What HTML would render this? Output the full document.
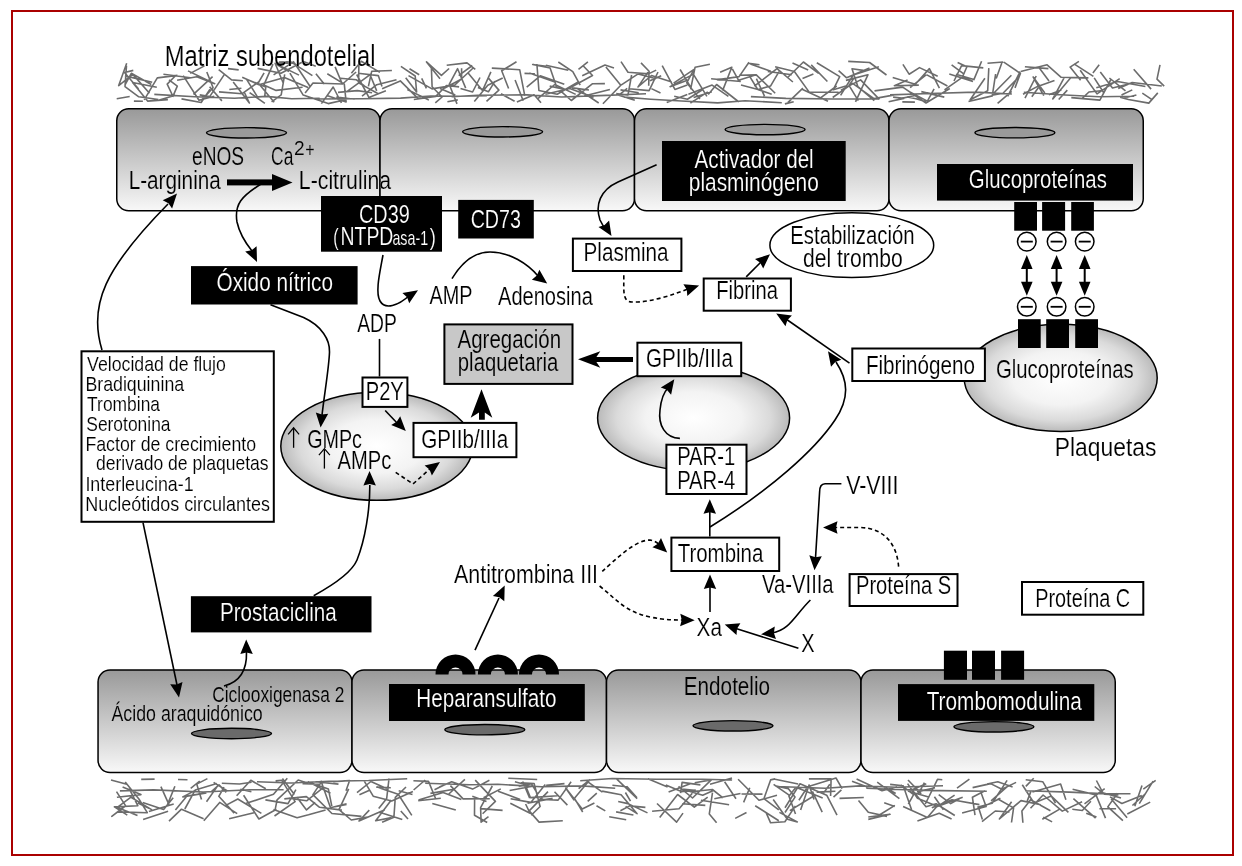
<!DOCTYPE html><html><head><meta charset="utf-8"><style>html,body{margin:0;padding:0;background:#fff;width:1242px;height:866px;overflow:hidden}svg{display:block;font-family:"Liberation Sans",sans-serif;will-change:transform}</style></head><body><svg width="1242" height="866" viewBox="0 0 1242 866"><defs><linearGradient id="cg" x1="0" y1="0" x2="0" y2="1"><stop offset="0" stop-color="#999999"/><stop offset="1" stop-color="#f8f8f8"/></linearGradient><radialGradient id="pg" cx="0.5" cy="0.5" r="0.5"><stop offset="0" stop-color="#ffffff"/><stop offset="0.5" stop-color="#f3f3f3"/><stop offset="0.8" stop-color="#dadada"/><stop offset="1" stop-color="#bababa"/></radialGradient></defs><rect x="0" y="0" width="1242" height="866" fill="#fff"/><rect x="12" y="11" width="1221" height="844" fill="none" stroke="#aa0000" stroke-width="2"/><path d="M116.7,98.7 L129.7,96.5 M124.9,75.9 L152.2,82.3 M126.7,63.3 L118.7,85.6 L132.8,74.4 L149.5,93.3 M133.9,101.1 L142.9,101.3 M138.6,89.1 L124.5,72.5 L133.3,70.4 M144.2,99.9 L157.3,77.9 L177.5,75.4 M151.3,84.5 L131.3,73.3 L124.9,85.0 M156.8,87.3 L132.6,82.5 L147.6,101.1 L167.9,99.6 M158.3,99.5 L138.8,96.8 L125.0,86.6 L126.5,65.8 M163.4,74.3 L190.4,77.7 M172.7,96.9 L177.3,86.1 L169.0,79.9 M175.2,76.0 L167.2,84.1 L172.8,96.0 L159.3,100.0 M183.2,75.6 L199.0,100.2 L214.3,96.2 M188.0,70.9 L214.7,83.7 L196.8,76.7 L177.1,80.3 M190.2,73.4 L204.5,65.9 M199.7,94.9 L209.7,96.6 L224.9,73.6 M201.1,100.6 L213.1,87.7 L206.8,72.0 M210.0,89.2 L201.2,102.5 L181.5,98.9 M212.6,76.6 L193.4,94.4 M218.7,69.7 L231.6,79.9 L242.9,80.7 M221.9,100.9 L209.6,86.8 M228.0,68.6 L238.7,69.9 M233.2,81.9 L249.4,103.0 L244.2,92.0 M241.4,88.2 L229.3,89.5 M242.2,77.2 L258.9,84.8 L284.4,77.4 L308.1,87.4 M249.6,92.6 L264.9,103.3 M257.6,97.2 L246.6,79.3 L265.8,86.9 L264.6,97.4 M259.4,81.3 L242.2,93.7 L219.0,91.9 M264.1,72.8 L258.2,83.0 L274.2,102.3 M271.6,101.9 L281.2,94.9 L284.7,74.3 M273.6,74.9 L294.2,61.4 M278.9,62.1 L290.9,61.9 L312.4,75.6 M289.0,71.6 L277.1,64.7 M289.9,73.2 L303.2,95.1 L328.2,103.6 L346.4,99.5 M299.0,75.1 L275.5,63.6 M302.6,87.3 L276.1,90.4 L263.8,85.1 L273.0,64.1 M305.1,93.0 L313.0,83.0 L342.6,84.0 L356.1,72.0 M310.3,86.8 L294.4,63.0 L275.1,63.3 L283.1,82.7 M315.8,66.2 L303.4,61.5 L281.0,73.2 L257.6,68.4 M324.4,84.3 L315.9,73.8 M327.3,73.7 L344.3,84.1 L346.1,101.9 L327.6,95.7 M335.1,66.9 L342.4,84.3 M341.4,103.0 L333.2,87.0 L321.4,103.6 M346.5,91.9 L370.1,74.7 L376.7,90.9 M351.4,73.2 L361.3,61.3 L379.9,72.4 M354.6,99.2 L336.3,97.1 M358.1,73.3 L378.3,75.6 L382.0,86.5 M364.4,85.8 L356.4,79.8 L340.4,78.2 M372.1,92.7 L357.3,90.6 L338.0,92.4 M378.2,93.8 L358.6,82.9 L358.9,62.3 M382.1,88.8 L400.3,80.9 L417.9,98.4 M385.9,90.7 L368.9,97.4 L356.7,74.5 M391.9,70.5 L371.7,71.3 L368.4,86.4 M396.5,79.8 L376.8,84.7 L362.0,96.2 M400.9,66.4 L415.2,76.0 L416.6,91.9 L405.7,77.7 M408.5,75.6 L432.0,88.9 L454.9,85.0 L473.7,67.5 M413.8,99.5 L435.8,96.4 L446.4,85.5 L459.1,86.9 M419.2,74.8 L409.5,68.8 M421.7,78.3 L426.4,88.4 M428.9,100.1 L407.3,89.5 M435.3,102.8 L442.1,97.0 L432.1,86.7 L431.3,65.8 M440.0,78.7 L426.5,61.9 L441.4,75.3 L449.1,68.5 M444.3,88.2 L461.6,79.0 L461.6,68.3 M447.4,101.7 L457.8,99.9 M455.3,95.0 L440.1,88.4 M458.7,75.6 L472.3,65.5 M465.7,88.1 L457.6,68.7 L449.2,84.3 L457.0,103.9 M468.1,73.0 L482.5,90.6 L490.9,71.9 M475.3,69.3 L467.0,62.9 L446.7,65.3 M480.0,77.5 L472.6,92.0 L460.5,88.5 M488.0,77.6 L498.9,90.1 L486.5,101.3 M491.8,68.1 L519.7,69.7 L524.8,95.9 M495.0,81.2 L488.4,91.8 L477.9,87.5 M502.7,78.0 L487.8,85.2 L474.3,101.6 M508.6,88.5 L501.7,70.8 L516.5,61.8 M514.6,101.3 L501.0,93.8 M516.9,102.0 L534.1,94.8 L541.0,102.8 M523.2,100.8 L515.1,80.0 M529.3,73.1 L554.9,81.9 M534.9,73.7 L524.5,73.4 M537.9,98.7 L554.7,84.5 L575.7,94.4 M545.4,94.3 L569.7,88.5 L593.6,97.3 M549.7,86.1 L566.4,89.7 L592.5,75.5 L583.1,65.7 M556.8,87.4 L550.1,68.0 L532.7,64.5 L546.3,66.2 M558.3,62.0 L572.8,71.7 L580.2,85.1 M564.3,84.3 L540.3,75.8 L526.7,87.2 M568.3,70.3 L545.8,65.2 M577.7,82.2 L557.2,94.3 L538.9,90.5 L536.9,64.0 M578.5,69.4 L587.9,61.8 M584.1,96.1 L609.9,89.4 M589.0,90.0 L572.2,87.9 M598.7,103.0 L576.5,88.2 M602.9,103.8 L620.8,85.3 L605.9,67.1 M604.9,83.6 L592.6,83.7 L571.3,100.5 L561.1,91.4 M614.0,68.0 L605.0,65.1 L582.2,75.7 M616.2,93.6 L627.9,95.3 L631.6,75.0 M621.4,84.9 L638.1,73.9 L656.1,78.8 M629.1,88.8 L649.1,90.6 L658.0,72.0 M634.8,100.2 L618.9,95.2 L627.2,88.4 M638.7,92.8 L620.5,89.9 M641.0,62.9 L649.1,71.3 L648.7,85.8 M650.0,80.8 L661.2,75.7 M656.2,70.1 L648.5,73.9 L628.0,72.3 L621.0,61.6 M660.5,93.0 L651.4,88.6 M666.7,102.6 L687.3,94.6 M671.8,81.9 L651.5,75.5 L638.0,86.9 L648.0,72.1 M673.6,83.1 L694.0,69.3 L686.7,82.8 L699.9,99.0 M680.1,69.5 L692.1,89.7 M687.3,85.1 L674.9,89.4 L662.2,65.6 M690.4,103.2 L707.8,91.9 M693.6,97.5 L711.9,91.8 M702.8,89.5 L687.4,99.2 L674.2,96.2 M706.9,96.4 L693.3,74.1 L670.1,86.7 L688.0,80.1 M709.9,64.3 L695.1,67.2 L690.6,89.3 M716.7,79.9 L739.1,76.6 L749.0,62.3 M722.6,90.6 L731.8,67.2 L720.1,72.3 M728.4,96.4 L712.1,85.1 L688.4,94.2 M732.3,68.9 L738.6,80.3 L755.3,74.9 M738.9,102.0 L716.6,84.5 L708.2,94.5 M740.8,81.5 L711.1,78.7 M748.9,75.2 L757.7,89.5 L771.7,94.2 M754.3,86.2 L777.0,68.6 L792.9,82.0 M759.5,64.8 L748.7,63.2 M764.5,96.2 L756.4,78.6 M770.8,71.3 L750.4,64.0 M775.2,93.3 L756.3,74.9 L739.1,75.2 M779.0,71.7 L770.5,86.1 L758.1,89.4 L741.0,85.0 M787.8,102.6 L802.9,88.2 M791.8,74.7 L767.7,71.5 M793.7,101.7 L784.9,103.9 M802.1,89.2 L828.0,101.2 M808.2,69.9 L792.5,63.1 M813.4,74.0 L802.5,78.4 M818.6,73.3 L803.4,62.0 L787.4,77.7 M821.2,97.4 L836.7,86.0 M827.4,81.5 L811.2,64.9 M832.7,97.5 L852.6,83.4 L874.0,98.6 L894.6,94.9 M838.6,92.3 L809.2,92.1 L794.4,71.5 L775.1,66.8 M840.6,95.3 L853.2,75.0 L878.9,66.8 M846.7,85.8 L833.3,89.7 L839.7,76.6 L816.8,62.8 M855.5,101.9 L867.9,74.8 L845.9,80.4 M858.3,100.7 L849.0,85.4 L854.9,76.9 M863.2,70.4 L852.0,68.8 L857.9,86.7 L874.3,100.6 M869.5,67.9 L846.6,77.8 L838.6,70.6 M874.5,90.9 L902.7,87.1 L926.0,103.0 L949.8,88.5 M879.4,99.4 L860.6,79.9 L840.9,90.1 M886.5,75.0 L869.6,62.5 L848.2,61.4 M888.6,101.8 L903.9,98.4 L893.1,97.1 M897.9,99.1 L916.2,95.2 M902.9,64.3 L909.1,74.2 L919.5,67.6 L937.7,76.2 M907.6,80.0 L894.4,85.8 L918.8,85.1 M910.1,87.7 L926.1,74.9 M914.9,102.1 L902.3,101.9 M921.3,91.6 L944.3,97.1 M926.1,101.7 L916.0,98.7 L907.3,97.0 M934.1,88.9 L927.4,101.1 L909.4,91.6 M939.4,88.2 L929.4,68.6 L915.3,84.2 L892.7,77.6 M944.5,89.9 L962.6,77.2 L972.7,81.3 M947.4,86.0 L926.4,74.6 M954.0,81.0 L961.6,65.6 L983.3,67.9 M957.6,62.5 L966.9,66.7 L961.9,78.3 M964.4,74.4 L951.6,64.8 M968.5,101.5 L992.3,95.9 L995.6,74.0 M973.0,81.4 L949.3,74.0 M981.6,61.2 L973.9,79.6 L955.9,74.3 M984.9,78.2 L970.2,99.8 L987.7,90.8 L988.8,68.1 M992.1,95.1 L1003.0,93.3 L1018.3,77.6 M997.6,103.3 L1011.7,91.3 M1001.8,63.0 L996.2,78.6 M1003.3,62.0 L987.5,63.2 M1011.4,75.2 L991.9,95.0 M1015.0,87.9 L1020.4,73.4 L1003.8,62.2 M1020.1,71.7 L1007.7,96.3 M1025.0,98.2 L1036.2,76.0 M1031.8,96.7 L1038.3,87.7 M1038.6,67.1 L1049.0,81.1 M1043.8,95.7 L1033.2,77.0 L1044.8,93.0 M1048.4,68.6 L1024.9,66.7 M1054.5,80.4 L1037.6,86.4 L1023.0,94.2 M1058.7,99.5 L1067.3,90.1 M1061.4,90.0 L1048.8,94.8 M1070.7,77.8 L1052.8,98.9 L1064.2,77.7 M1074.0,63.9 L1093.4,76.3 M1080.6,80.2 L1070.1,67.1 L1078.9,61.4 M1082.3,98.3 L1088.9,92.0 L1103.3,90.5 M1088.4,77.9 L1061.2,77.3 L1047.1,64.8 L1020.7,71.6 M1092.9,73.1 L1099.2,64.8 M1100.3,72.1 L1112.5,88.0 L1130.7,83.5 M1103.9,93.0 L1094.2,77.9 M1110.9,79.5 L1099.9,100.1 L1071.3,97.6 M1118.2,88.5 L1132.2,82.5 L1161.8,86.0 M1119.7,78.6 L1097.0,93.9 L1080.2,70.3 M1125.5,90.9 L1109.4,78.0 M1132.3,89.9 L1121.5,95.0 M1136.4,95.0 L1123.8,98.3 M1142.3,93.2 L1152.0,99.6 M1145.4,86.5 L1117.5,81.5 L1096.3,87.7 M1151.1,89.1 L1133.7,69.3 M1157.8,92.9 L1148.8,103.1 L1128.4,99.5 L1120.1,97.2 M1164.2,86.1 L1157.0,79.2 L1160.0,64.8 M154.3,94.4 L194.7,96.7 L234.5,98.2 L266.5,96.4 L291.7,98.8 L319.7,98.2 M315.1,99.0 L362.3,98.7 L400.6,98.1 L430.8,96.0 L458.5,96.2 L486.9,95.7 M451.6,96.7 L477.5,95.2 L526.9,94.9 L561.7,97.0 L606.1,95.4 L646.0,93.8 M624.2,97.1 L650.8,99.2 L681.5,101.0 L717.6,102.9 L745.1,100.7 L781.8,102.8 M750.9,96.6 L785.9,98.4 L833.0,99.0 L879.4,99.0 M890.0,94.9 L930.2,93.5 L975.5,92.1 L1011.9,94.0 M1023.8,92.2 L1060.1,94.7 L1099.1,96.8 L1134.1,96.3" fill="none" stroke="#6c6c6c" stroke-width="1.6" stroke-linejoin="round" stroke-linecap="butt"/><path d="M111.0,779.9 L126.8,784.2 M116.5,791.6 L125.7,805.9 L111.8,816.3 L124.2,806.6 M117.4,811.9 L147.3,812.7 L138.9,799.0 L125.2,781.9 M122.6,787.1 L140.9,794.6 L116.9,797.3 M128.9,788.2 L137.8,805.7 L114.4,806.9 L127.3,815.1 M137.5,815.5 L117.3,807.4 L131.0,797.2 L152.0,809.9 M137.8,803.1 L149.0,808.3 M143.1,819.5 L168.1,811.3 M148.9,811.4 L173.7,804.1 M154.6,779.1 L141.2,779.4 M160.9,786.6 L169.0,804.6 M167.3,805.1 L174.9,786.2 M173.2,797.7 L163.6,809.5 L142.7,802.4 M178.0,779.5 L187.5,779.7 M184.8,809.0 L195.3,789.9 L216.9,783.6 M187.0,796.1 L175.4,810.0 M190.7,788.3 L199.7,781.0 M195.5,790.4 L182.8,796.9 L206.4,792.9 M203.6,818.8 L181.5,809.2 L169.0,821.2 M207.4,778.6 L196.7,784.1 L201.5,799.5 M211.4,791.6 L219.0,784.9 L226.3,792.4 M216.8,787.1 L206.5,801.7 M224.0,787.1 L218.8,796.3 L234.2,813.1 M227.0,790.8 L213.6,782.4 M237.2,813.6 L219.7,802.4 L203.8,820.8 M240.3,789.3 L251.4,791.8 M243.6,795.3 L258.9,819.0 L276.5,809.2 M251.6,782.2 L239.5,784.0 L221.8,783.3 M254.0,812.7 L229.1,818.8 M261.4,813.4 L237.8,799.0 L225.8,805.4 M265.8,788.8 L250.8,780.3 L236.6,795.7 M273.4,809.4 L297.1,817.7 L308.5,814.8 L325.6,810.0 M275.6,780.9 L281.8,780.3 L295.1,801.6 L274.5,816.0 M284.3,798.9 L306.4,796.6 L319.6,807.3 L341.9,810.1 M287.3,778.3 L273.5,794.3 L245.7,803.6 M294.4,794.5 L282.4,778.6 M295.9,789.6 L288.0,803.6 L265.4,799.9 M302.5,783.8 L320.3,784.2 M308.5,783.5 L298.2,780.0 L277.1,799.8 L274.9,810.9 M315.2,802.3 L306.5,809.9 L296.7,796.9 M320.9,780.8 L330.5,807.8 L346.6,803.7 M323.9,787.2 L306.6,800.8 L288.8,798.2 M330.5,793.3 L308.4,781.9 L328.4,789.1 L331.8,806.1 M333.3,781.6 L349.6,780.6 L346.0,790.8 M338.5,784.1 L315.8,781.8 L326.9,781.7 M346.6,804.4 L335.0,806.7 M348.7,788.9 L339.0,809.7 L351.3,820.0 L367.5,817.1 M357.0,792.7 L370.9,781.5 L388.7,789.4 M361.5,816.4 L331.9,813.5 L312.9,794.6 L321.3,782.1 M364.1,780.9 L373.2,796.2 L391.7,801.1 L412.9,791.4 M369.5,790.3 L359.4,794.7 M378.7,808.6 L386.7,798.5 L389.0,778.6 M382.1,822.2 L393.9,817.2 L395.3,797.4 L406.0,787.0 M384.8,809.8 L359.0,821.0 L369.3,810.1 M391.3,800.1 L375.7,820.8 L391.5,817.6 M398.7,790.8 L412.5,794.4 M402.3,819.6 L379.5,812.2 M408.0,819.0 L400.8,811.0 M411.8,815.4 L398.2,794.3 L376.8,787.1 L390.8,787.7 M418.2,800.7 L440.8,798.2 M425.2,780.0 L413.6,790.0 M430.4,793.4 L453.9,789.2 M435.9,799.3 L428.5,781.4 L413.4,780.8 M439.4,787.0 L451.7,781.8 L472.6,789.1 L489.4,780.3 M445.1,784.5 L434.5,789.8 M450.4,785.6 L463.1,798.9 L489.8,798.8 M455.8,810.0 L432.3,803.5 M461.4,799.4 L443.1,792.4 L418.5,800.1 M464.9,779.3 L448.8,794.0 M472.3,796.2 L486.5,801.5 M475.2,780.1 L495.4,801.4 L482.6,813.8 M480.6,808.6 L502.6,810.4 M487.2,822.5 L474.5,815.3 L474.6,799.8 M492.3,786.0 L480.6,807.7 L481.1,822.1 L488.5,816.6 M498.1,791.3 L520.2,799.4 M500.8,788.9 L483.5,797.8 M510.3,803.3 L530.1,813.3 L525.6,804.0 M514.9,781.8 L525.0,784.4 L530.4,797.6 L557.6,795.7 M518.6,786.5 L531.5,783.8 L537.1,793.2 M522.7,781.5 L529.7,798.1 M531.2,815.3 L540.1,806.5 L534.1,783.5 L520.8,782.9 M533.9,786.0 L509.6,790.5 M537.2,779.5 L508.3,778.3 M545.3,784.6 L530.8,802.4 L510.6,798.8 M552.6,798.4 L527.5,803.3 M554.5,791.8 L567.4,805.1 M562.8,820.7 L539.1,822.1 L529.2,810.9 L548.0,791.6 M564.5,783.6 L546.2,785.4 M571.1,781.7 L558.1,800.1 L539.1,799.3 M578.6,788.7 L587.5,781.7 L602.4,792.2 M582.7,812.0 L574.5,798.3 L590.1,779.6 M587.7,801.3 L596.8,793.1 M594.4,803.0 L582.2,809.0 L565.7,788.1 L574.2,800.3 M596.5,805.7 L605.3,810.9 M602.1,791.1 L621.1,794.7 L637.1,813.7 L625.6,806.3 M609.2,816.7 L626.2,819.8 M612.4,785.3 L626.6,786.7 M618.2,801.5 L628.0,803.6 L647.5,812.9 M625.4,792.5 L630.5,801.2 M626.7,786.2 L636.8,797.5 M633.4,815.0 L616.1,811.9 M637.2,798.7 L616.8,779.2 M645.4,807.4 L629.7,805.9 L620.4,810.8 M652.1,811.3 L679.1,808.8 L692.3,793.3 M657.0,803.5 L676.6,822.1 L683.0,813.1 M659.7,817.5 L677.6,794.5 L694.3,807.2 L707.7,797.2 M667.6,787.1 L647.9,778.7 M668.6,792.1 L690.8,783.5 M678.5,786.3 L692.5,798.0 L711.3,779.9 L694.7,782.8 M682.2,803.8 L705.3,805.4 M684.3,789.8 L702.7,795.2 L713.4,790.4 M694.5,790.2 L681.9,789.0 M695.8,790.0 L681.3,791.6 L665.8,784.9 M700.4,784.9 L682.1,782.4 L680.5,793.2 M710.0,784.2 L732.0,778.1 M714.3,798.7 L740.5,793.5 M716.6,822.7 L709.3,813.9 L712.5,792.7 M723.0,797.8 L712.4,789.5 L690.4,791.7 M729.1,804.8 L700.9,800.3 M736.0,798.8 L724.6,781.8 M738.1,779.2 L759.0,800.3 L777.0,795.3 M746.5,812.5 L735.2,818.4 M749.8,787.8 L743.6,802.4 M755.2,805.7 L778.8,820.7 M762.5,794.1 L741.5,794.0 M766.1,812.7 L770.6,822.8 L784.9,821.7 L795.4,805.9 M773.2,799.5 L787.4,819.3 L797.3,821.9 L779.4,812.4 M773.8,779.0 L798.2,784.0 M778.8,809.9 L763.9,798.7 L770.6,779.9 L775.1,778.9 M785.0,812.5 L795.0,797.1 L788.2,788.6 L775.0,785.7 M789.8,810.6 L813.3,796.3 M795.5,814.1 L788.7,795.5 M800.6,809.9 L809.1,784.9 L814.0,799.6 M808.9,778.9 L831.1,778.9 L830.6,796.0 M812.4,791.3 L822.2,812.1 M816.6,792.1 L835.4,791.2 M822.7,798.0 L795.9,787.3 L789.5,795.4 L773.6,784.3 M829.8,784.3 L823.4,793.4 M833.5,797.1 L841.4,789.9 M837.0,815.2 L826.7,795.2 L800.0,783.8 L785.0,807.7 M842.1,788.6 L836.0,778.0 L807.7,786.8 L798.9,800.2 M852.0,781.2 L867.4,787.0 M856.6,779.1 L882.0,790.7 L897.0,786.8 M858.5,800.4 L868.3,812.3 L887.0,816.4 M863.8,797.5 L839.5,798.4 M868.3,819.4 L890.0,814.3 L868.3,817.0 M877.2,782.2 L899.4,798.6 M879.8,814.8 L894.9,805.4 M886.0,788.0 L895.7,793.5 M890.1,784.4 L903.2,785.7 L911.6,809.7 M894.8,806.4 L884.2,802.8 M900.7,784.9 L913.6,794.7 L908.3,804.1 M908.0,780.0 L921.3,793.7 M912.8,790.8 L926.0,806.7 L936.1,803.7 L954.8,815.5 M918.4,794.0 L924.4,782.7 M925.3,804.0 L937.5,779.3 L942.3,779.7 M926.3,783.8 L908.5,791.2 L929.5,797.3 M935.0,787.7 L917.0,791.9 M938.7,794.6 L950.7,803.6 L959.7,798.5 M943.4,809.8 L934.4,796.7 M951.6,818.9 L939.2,813.2 L917.4,821.0 M954.6,795.1 L937.7,806.4 L917.5,798.3 L907.6,783.6 M962.1,813.1 L986.1,806.6 L980.9,792.2 M962.7,797.3 L936.6,806.8 L927.4,817.4 L903.1,806.4 M969.4,779.2 L957.0,788.2 M977.3,807.3 L992.1,803.2 L1007.1,780.4 M979.4,804.6 L952.0,799.8 L931.8,807.8 M984.9,790.8 L972.4,797.2 L975.0,815.1 M991.1,800.8 L1008.9,785.1 M997.5,798.7 L1013.6,807.9 L1011.5,822.5 M1000.4,798.2 L979.0,808.9 L982.4,819.4 M1009.5,812.0 L995.3,811.0 L982.0,821.7 M1012.6,786.9 L997.8,781.8 L987.0,784.0 M1016.1,782.4 L1001.9,789.2 L990.6,783.6 L972.6,787.6 M1022.3,784.8 L1034.0,803.0 L1051.3,796.1 L1068.4,812.3 M1030.8,791.6 L1027.2,801.1 M1033.7,778.2 L1025.8,786.4 M1040.7,804.7 L1021.0,800.6 L999.4,819.0 L1011.6,801.8 M1043.2,817.1 L1052.1,821.9 M1050.4,810.8 L1030.6,799.7 L1021.9,811.1 L1022.9,822.7 M1055.5,803.2 L1042.7,781.7 L1025.7,779.7 M1060.1,808.9 L1042.3,819.2 M1065.9,799.8 L1060.6,784.0 L1032.4,791.9 M1072.6,789.3 L1096.0,794.9 L1105.5,818.1 M1073.4,798.6 L1095.6,818.1 M1082.1,801.7 L1062.3,811.1 L1043.1,795.0 L1030.5,808.3 M1086.2,813.2 L1096.5,816.9 M1090.9,801.3 L1082.3,810.5 L1072.3,809.2 M1094.7,786.5 L1104.2,794.2 L1118.4,795.0 M1099.4,808.7 L1116.1,808.8 M1104.7,788.6 L1084.5,803.9 M1110.0,796.9 L1121.9,803.5 L1141.8,795.5 M1117.5,793.3 L1107.8,806.9 L1122.9,820.6 M1121.0,798.0 L1102.8,792.7 L1096.4,780.5 M1127.1,817.8 L1111.1,798.7 M1132.4,805.5 L1145.1,794.0 M1139.3,803.7 L1153.1,781.2 M1142.0,785.6 L1134.8,806.2 M1150.2,802.1 L1127.3,814.0 M1155.7,780.3 L1143.3,789.2 M119.9,790.9 L153.5,789.9 L203.2,792.0 L250.1,789.8 L283.6,789.7 M257.0,781.7 L291.1,783.0 L329.0,781.2 L368.6,780.5 L407.2,778.8 M425.2,783.2 L469.7,784.8 L497.8,784.3 L541.5,786.7 L582.2,785.9 L615.2,788.3 M580.2,780.7 L612.2,778.5 L656.7,779.3 L702.6,779.2 L732.1,780.0 M776.7,786.5 L825.3,788.3 L859.7,785.9 L895.7,787.3 L943.0,785.8 M866.3,788.3 L897.4,789.5 L940.7,790.6 L986.8,791.3 M1025.2,790.7 L1069.4,792.1 L1101.8,793.6 L1130.5,793.8" fill="none" stroke="#6c6c6c" stroke-width="1.6" stroke-linejoin="round" stroke-linecap="butt"/><rect x="116.75" y="108.75" width="263.25" height="102.00" rx="12" ry="12" fill="url(#cg)" stroke="#000" stroke-width="1.5"/><rect x="380.00" y="108.75" width="254.50" height="102.00" rx="12" ry="12" fill="url(#cg)" stroke="#000" stroke-width="1.5"/><rect x="634.50" y="108.75" width="254.50" height="102.00" rx="12" ry="12" fill="url(#cg)" stroke="#000" stroke-width="1.5"/><rect x="889.00" y="108.75" width="254.25" height="102.00" rx="12" ry="12" fill="url(#cg)" stroke="#000" stroke-width="1.5"/><ellipse cx="246.5" cy="132.8" rx="40" ry="5.2" fill="#9a9a9a" stroke="#000" stroke-width="1.4"/><ellipse cx="502.6" cy="131.8" rx="40" ry="5.2" fill="#9a9a9a" stroke="#000" stroke-width="1.4"/><ellipse cx="765.1" cy="129.6" rx="40" ry="5.2" fill="#9a9a9a" stroke="#000" stroke-width="1.4"/><ellipse cx="1014.9" cy="132.7" rx="40" ry="5.2" fill="#9a9a9a" stroke="#000" stroke-width="1.4"/><rect x="98.05" y="670.05" width="253.95" height="102.40" rx="12" ry="12" fill="url(#cg)" stroke="#000" stroke-width="1.5"/><rect x="352.00" y="670.05" width="254.50" height="102.40" rx="12" ry="12" fill="url(#cg)" stroke="#000" stroke-width="1.5"/><rect x="606.50" y="670.05" width="254.50" height="102.40" rx="12" ry="12" fill="url(#cg)" stroke="#000" stroke-width="1.5"/><rect x="861.00" y="670.05" width="254.25" height="102.40" rx="12" ry="12" fill="url(#cg)" stroke="#000" stroke-width="1.5"/><ellipse cx="231.5" cy="733.5" rx="40" ry="5.2" fill="#6a6a6a" stroke="#000" stroke-width="1.4"/><ellipse cx="484.8" cy="729.7" rx="40" ry="5.2" fill="#6a6a6a" stroke="#000" stroke-width="1.4"/><ellipse cx="733" cy="725.8" rx="40" ry="5.2" fill="#6a6a6a" stroke="#000" stroke-width="1.4"/><ellipse cx="993.9" cy="726.8" rx="40" ry="5.2" fill="#6a6a6a" stroke="#000" stroke-width="1.4"/><ellipse cx="376.8" cy="446.3" rx="96" ry="54" fill="url(#pg)" stroke="#000" stroke-width="1.5"/><ellipse cx="693.6" cy="418" rx="96" ry="52.5" fill="url(#pg)" stroke="#000" stroke-width="1.5"/><ellipse cx="1060.7" cy="377.9" rx="96.5" ry="53.6" fill="url(#pg)" stroke="#000" stroke-width="1.5"/><ellipse cx="851.8" cy="245.2" rx="81.9" ry="32.4" fill="#fff" stroke="#000" stroke-width="1.5"/><rect x="321.0" y="196.0" width="121.0" height="55.7" fill="#000"/><rect x="458.2" y="199.9" width="75.6" height="38.6" fill="#000"/><rect x="191.0" y="266.1" width="166.6" height="38.4" fill="#000"/><rect x="190.9" y="596.2" width="180.6" height="36.2" fill="#000"/><rect x="662.0" y="141.0" width="183.7" height="60.0" fill="#000"/><rect x="937.0" y="164.0" width="196.0" height="36.6" fill="#000"/><rect x="389.0" y="684.0" width="195.8" height="37.0" fill="#000"/><rect x="898.0" y="684.1" width="196.3" height="36.8" fill="#000"/><rect x="572.9" y="238.6" width="108.5" height="32.4" fill="#fff" stroke="#000" stroke-width="2"/><rect x="703.7" y="278.5" width="87.2" height="32.2" fill="#fff" stroke="#000" stroke-width="2"/><rect x="413.5" y="422.9" width="102.9" height="34.3" fill="#fff" stroke="#000" stroke-width="2"/><rect x="362.5" y="377.5" width="44.9" height="29.4" fill="#fff" stroke="#000" stroke-width="2"/><rect x="637.4" y="342.7" width="103.8" height="33.5" fill="#fff" stroke="#000" stroke-width="2"/><rect x="666.4" y="444.7" width="80.1" height="49.3" fill="#fff" stroke="#000" stroke-width="2"/><rect x="671.4" y="537.6" width="107.8" height="33.4" fill="#fff" stroke="#000" stroke-width="2"/><rect x="852.3" y="348.5" width="132.6" height="32.5" fill="#fff" stroke="#000" stroke-width="2"/><rect x="849.6" y="574.1" width="107.9" height="31.9" fill="#fff" stroke="#000" stroke-width="2"/><rect x="1022.0" y="582.0" width="121.3" height="32.7" fill="#fff" stroke="#000" stroke-width="2"/><rect x="81.5" y="351.3" width="192.3" height="170.5" fill="#fff" stroke="#000" stroke-width="2"/><rect x="444.4" y="324.4" width="128.1" height="59.5" fill="#c8c8c8" stroke="#000" stroke-width="2"/><rect x="1014.2" y="202.0" width="22.8" height="28.7" fill="#000"/><rect x="1042.1" y="202.0" width="23.0" height="28.7" fill="#000"/><rect x="1071.2" y="202.0" width="22.7" height="28.7" fill="#000"/><rect x="1018.0" y="319.2" width="22.7" height="28.8" fill="#000"/><rect x="1046.2" y="319.2" width="22.8" height="28.8" fill="#000"/><rect x="1075.2" y="319.2" width="22.8" height="28.8" fill="#000"/><rect x="943.9" y="650.7" width="23.1" height="29.1" fill="#000"/><rect x="972.0" y="650.7" width="23.0" height="29.1" fill="#000"/><rect x="1001.1" y="650.7" width="23.0" height="29.1" fill="#000"/><circle cx="1026.8" cy="241.6" r="9.3" fill="#fff" stroke="#000" stroke-width="1.5"/><line x1="1020.8" y1="241.6" x2="1032.8" y2="241.6" stroke="#000" stroke-width="1.8"/><circle cx="1026.8" cy="306.8" r="9.3" fill="#fff" stroke="#000" stroke-width="1.5"/><line x1="1020.8" y1="306.8" x2="1032.8" y2="306.8" stroke="#000" stroke-width="1.8"/><line x1="1026.8" y1="266" x2="1026.8" y2="285" stroke="#000" stroke-width="2"/><polygon points="1026.8,255.0 1032.6,269.0 1026.8,269.0 1021.0,269.0" fill="#000"/><polygon points="1026.8,295.7 1021.0,281.7 1026.8,281.7 1032.6,281.7" fill="#000"/><circle cx="1056.6" cy="241.6" r="9.3" fill="#fff" stroke="#000" stroke-width="1.5"/><line x1="1050.6" y1="241.6" x2="1062.6" y2="241.6" stroke="#000" stroke-width="1.8"/><circle cx="1056.6" cy="306.8" r="9.3" fill="#fff" stroke="#000" stroke-width="1.5"/><line x1="1050.6" y1="306.8" x2="1062.6" y2="306.8" stroke="#000" stroke-width="1.8"/><line x1="1056.6" y1="266" x2="1056.6" y2="285" stroke="#000" stroke-width="2"/><polygon points="1056.6,255.0 1062.4,269.0 1056.6,269.0 1050.8,269.0" fill="#000"/><polygon points="1056.6,295.7 1050.8,281.7 1056.6,281.7 1062.4,281.7" fill="#000"/><circle cx="1084.7" cy="241.6" r="9.3" fill="#fff" stroke="#000" stroke-width="1.5"/><line x1="1078.7" y1="241.6" x2="1090.7" y2="241.6" stroke="#000" stroke-width="1.8"/><circle cx="1084.7" cy="306.8" r="9.3" fill="#fff" stroke="#000" stroke-width="1.5"/><line x1="1078.7" y1="306.8" x2="1090.7" y2="306.8" stroke="#000" stroke-width="1.8"/><line x1="1084.7" y1="266" x2="1084.7" y2="285" stroke="#000" stroke-width="2"/><polygon points="1084.7,255.0 1090.5,269.0 1084.7,269.0 1078.9,269.0" fill="#000"/><polygon points="1084.7,295.7 1078.9,281.7 1084.7,281.7 1090.5,281.7" fill="#000"/><path d="M435.5,674.5 A20,20 0 0 1 475.5,674.5 L462.5,674.5 A7,7 0 0 0 448.5,674.5 Z" fill="#000"/><path d="M477.9,674.5 A20,20 0 0 1 517.9,674.5 L504.9,674.5 A7,7 0 0 0 490.9,674.5 Z" fill="#000"/><path d="M519,674.5 A20,20 0 0 1 559,674.5 L546,674.5 A7,7 0 0 0 532,674.5 Z" fill="#000"/><rect x="227" y="179.4" width="46" height="6" fill="#000"/><polygon points="272,174 292.5,182.4 272,191" fill="#000"/><path d="M261,184 C242,196 234,204 237,222 C240,236 248,246 252,251" fill="none" stroke="#000" stroke-width="1.6"/><polygon points="257.0,262.0 245.2,251.5 251.6,250.2 256.6,246.2" fill="#000"/><path d="M102,350 C88,305 105,268 168,204" fill="none" stroke="#000" stroke-width="1.6"/><polygon points="177.0,193.5 172.1,208.5 168.4,203.3 162.7,200.3" fill="#000"/><path d="M270.5,304.7 L303.6,317.6 C322,326 330,340 329.5,352 C329,367 325,390 322,415" fill="none" stroke="#000" stroke-width="1.6"/><polygon points="320.6,427.5 315.8,412.5 321.8,414.6 328.2,413.7" fill="#000"/><path d="M383,255 C380,272 375,292 380,301 C385,310 398,306 410,295" fill="none" stroke="#000" stroke-width="1.6"/><polygon points="418.0,290.2 409.2,303.3 407.1,297.3 402.4,292.9" fill="#000"/><path d="M452,278.7 C462,262 475,252 490,252 C510,252 528,264 538,276" fill="none" stroke="#000" stroke-width="1.6"/><polygon points="547.2,283.5 531.9,279.7 536.8,275.6 539.4,269.8" fill="#000"/><path d="M379.5,338.9 L379.5,376.5" fill="none" stroke="#000" stroke-width="1.6"/><path d="M385.2,410.5 L398,424" fill="none" stroke="#000" stroke-width="1.6"/><polygon points="405.8,431.1 391.2,425.0 396.7,421.8 400.2,416.3" fill="#000"/><polygon points="481.5,389.2 492.3,417.8 484.8,412.6 484.8,419.8 479,419.8 479,412.6 470.7,417.8" fill="#000"/><path d="M395.7,472.3 L413,484 L431,468" fill="none" stroke="#000" stroke-width="1.6" stroke-dasharray="4,3"/><polygon points="440.0,462.0 431.9,475.6 429.5,469.6 424.6,465.5" fill="#000"/><path d="M313.7,595.7 C335,584 352,572 357,560 C365,540 370,510 369.8,485" fill="none" stroke="#000" stroke-width="1.6"/><polygon points="369.5,471.0 375.9,485.4 369.7,484.0 363.4,485.6" fill="#000"/><path d="M143,522.7 L177,685" fill="none" stroke="#000" stroke-width="1.6"/><polygon points="179.0,697.4 170.2,684.3 176.6,684.6 182.5,682.0" fill="#000"/><path d="M224,686 C240,682 247,670 246.5,652" fill="none" stroke="#000" stroke-width="1.6"/><polygon points="246.2,639.5 252.8,653.9 246.5,652.5 240.3,654.1" fill="#000"/><path d="M656.6,164.8 L618,181.9 C600,190 595,205 600,220 C603,227 606,230 608,232" fill="none" stroke="#000" stroke-width="1.6"/><polygon points="611.5,236.0 598.5,227.0 604.6,225.0 609.1,220.4" fill="#000"/><path d="M623.8,275.3 C624,290 622,302 632,302 C650,303 675,294 688,289" fill="none" stroke="#000" stroke-width="1.6" stroke-dasharray="4,3"/><polygon points="699.1,285.6 687.3,296.1 686.8,289.7 683.4,284.3" fill="#000"/><path d="M746.2,276.9 L762,261" fill="none" stroke="#000" stroke-width="1.6"/><polygon points="770.0,254.3 763.2,268.5 760.2,262.8 755.0,259.1" fill="#000"/><polygon points="578,359.3 600.3,351.3 596.4,357.1 633,357.1 633,361.9 596.4,361.9 600.3,367.8" fill="#000"/><path d="M679.9,438.4 C665,438 658,425 660,410 C661,400 664,392 668,388" fill="none" stroke="#000" stroke-width="1.6"/><polygon points="674.3,379.2 671.1,394.7 666.8,389.8 660.8,387.5" fill="#000"/><path d="M709.8,536.4 L709.8,512" fill="none" stroke="#000" stroke-width="1.6"/><polygon points="709.8,499.2 716.0,513.7 709.8,512.2 703.5,513.7" fill="#000"/><path d="M710,611.9 L710,587" fill="none" stroke="#000" stroke-width="1.6"/><polygon points="710.0,574.5 716.2,589.0 710.0,587.5 703.8,589.0" fill="#000"/><path d="M710,527 C770,490 815,450 835,420 C850,398 848,380 836,362" fill="none" stroke="#000" stroke-width="1.6"/><polygon points="828.0,351.2 841.3,359.7 835.3,362.0 831.0,366.7" fill="#000"/><path d="M849.5,363.1 L786,319" fill="none" stroke="#000" stroke-width="1.6"/><polygon points="776.2,313.4 791.9,315.4 787.4,320.0 785.5,326.2" fill="#000"/><path d="M475,650.2 L499,598" fill="none" stroke="#000" stroke-width="1.6"/><polygon points="504.7,585.5 504.3,601.3 499.2,597.3 492.9,596.0" fill="#000"/><path d="M602.3,571.3 C615,560 635,540 650,540 C656,541 659,544 660,546" fill="none" stroke="#000" stroke-width="1.6" stroke-dasharray="4,3"/><polygon points="667.2,552.6 652.4,547.2 657.8,543.7 661.0,538.1" fill="#000"/><path d="M599.6,586 C615,598 625,612 650,617 C665,620 675,620 682,620" fill="none" stroke="#000" stroke-width="1.6" stroke-dasharray="4,3"/><polygon points="694.7,620.2 680.1,626.3 681.7,620.0 680.3,613.8" fill="#000"/><path d="M841.4,483.8 L825,483.8 C820,484 819.6,488 819.6,492 L815.5,558" fill="none" stroke="#000" stroke-width="1.6"/><polygon points="814.5,570.2 809.3,555.3 815.4,557.2 821.8,556.2" fill="#000"/><path d="M898.6,566.6 C897,545 885,528 860,527.5 L836,527.5" fill="none" stroke="#000" stroke-width="1.6" stroke-dasharray="4,3"/><polygon points="823.0,527.5 837.5,521.2 836.0,527.5 837.5,533.8" fill="#000"/><path d="M810.4,600 C795,615 790,630 772,633" fill="none" stroke="#000" stroke-width="1.6"/><polygon points="761.0,634.3 774.8,626.6 773.9,633.0 776.0,639.1" fill="#000"/><path d="M798.4,648.3 L736,628.5" fill="none" stroke="#000" stroke-width="1.6"/><polygon points="724.7,624.6 740.4,623.2 737.0,628.7 736.5,635.1" fill="#000"/><path d="M293.6,447.8 L293.6,428.8" stroke="#000" stroke-width="1.3" fill="none"/><path d="M288.1,434.3 L293.6,427.8 L299.1,434.3" stroke="#000" stroke-width="1.2" fill="none"/><path d="M324.4,468.6 L324.4,449.6" stroke="#000" stroke-width="1.3" fill="none"/><path d="M318.9,455.1 L324.4,448.6 L329.9,455.1" stroke="#000" stroke-width="1.2" fill="none"/><g font-family="Liberation Sans"><text x="164.77" y="66.40" font-size="29" fill="#000" stroke="#ffffff" stroke-width="0.15" textLength="210.81" lengthAdjust="spacingAndGlyphs">Matriz subendotelial</text><text x="192.06" y="165.00" font-size="25.8" fill="#000" stroke="#c7c7c7" stroke-width="0.15" textLength="52.07" lengthAdjust="spacingAndGlyphs">eNOS</text><text x="271.12" y="165.00" font-size="25.8" fill="#000" stroke="#c7c7c7" stroke-width="0.15" textLength="22.26" lengthAdjust="spacingAndGlyphs">Ca</text><text x="294.07" y="154.70" font-size="20.5" fill="#000" stroke="#bdbdbd" stroke-width="0.15" textLength="10.65" lengthAdjust="spacingAndGlyphs">2</text><text x="305.22" y="157.40" font-size="20.5" fill="#000" stroke="#c0c0c0" stroke-width="0.15" textLength="9.35" lengthAdjust="spacingAndGlyphs">+</text><text x="128.69" y="189.00" font-size="25.8" fill="#000" stroke="#dddddd" stroke-width="0.15" textLength="92.09" lengthAdjust="spacingAndGlyphs">L-arginina</text><text x="298.85" y="188.60" font-size="25.8" fill="#000" stroke="#dddddd" stroke-width="0.15" textLength="92.22" lengthAdjust="spacingAndGlyphs">L-citrulina</text><text x="359.03" y="222.70" font-size="25.8" fill="#fff" stroke="#000" stroke-width="0.15" textLength="50.71" lengthAdjust="spacingAndGlyphs">CD39</text><text x="333.23" y="245.40" font-size="24" fill="#fff" stroke="#000" stroke-width="0.15" textLength="5.37" lengthAdjust="spacingAndGlyphs">(</text><text x="340.43" y="245.40" font-size="26.5" fill="#fff" stroke="#000" stroke-width="0.15" textLength="53.01" lengthAdjust="spacingAndGlyphs">NTPD</text><text x="392.41" y="245.40" font-size="20.8" fill="#fff" stroke="#000" stroke-width="0.15" textLength="35.69" lengthAdjust="spacingAndGlyphs">asa-1</text><text x="429.80" y="245.40" font-size="24" fill="#fff" stroke="#000" stroke-width="0.15" textLength="6.06" lengthAdjust="spacingAndGlyphs">)</text><text x="470.64" y="227.50" font-size="25.8" fill="#fff" stroke="#000" stroke-width="0.15" textLength="50.30" lengthAdjust="spacingAndGlyphs">CD73</text><text x="216.50" y="290.50" font-size="25.8" fill="#fff" stroke="#000" stroke-width="0.15" textLength="116.46" lengthAdjust="spacingAndGlyphs">Óxido nítrico</text><text x="429.60" y="303.80" font-size="25.8" fill="#000" stroke="#ffffff" stroke-width="0.15" textLength="43.00" lengthAdjust="spacingAndGlyphs">AMP</text><text x="498.00" y="304.50" font-size="25.8" fill="#000" stroke="#ffffff" stroke-width="0.15" textLength="94.84" lengthAdjust="spacingAndGlyphs">Adenosina</text><text x="357.20" y="331.50" font-size="25.8" fill="#000" stroke="#ffffff" stroke-width="0.15" textLength="39.68" lengthAdjust="spacingAndGlyphs">ADP</text><text x="365.80" y="400.20" font-size="25" fill="#000" stroke="#ffffff" stroke-width="0.15" textLength="37.92" lengthAdjust="spacingAndGlyphs">P2Y</text><text x="421.20" y="448.40" font-size="25.8" fill="#000" stroke="#ffffff" stroke-width="0.15" textLength="87.09" lengthAdjust="spacingAndGlyphs">GPIIb/IIIa</text><text x="457.60" y="347.50" font-size="25.8" fill="#000" stroke="#c8c8c8" stroke-width="0.15" textLength="103.50" lengthAdjust="spacingAndGlyphs">Agregación</text><text x="457.83" y="370.80" font-size="25.8" fill="#000" stroke="#c8c8c8" stroke-width="0.15" textLength="100.50" lengthAdjust="spacingAndGlyphs">plaquetaria</text><text x="307.13" y="447.90" font-size="25.8" fill="#000" stroke="#ececec" stroke-width="0.15" textLength="54.88" lengthAdjust="spacingAndGlyphs">GMPc</text><text x="337.50" y="468.50" font-size="25.8" fill="#000" stroke="#ececec" stroke-width="0.15" textLength="53.73" lengthAdjust="spacingAndGlyphs">AMPc</text><text x="87.10" y="371.00" font-size="20.8" fill="#000" stroke="#ffffff" stroke-width="0.15" textLength="138.79" lengthAdjust="spacingAndGlyphs">Velocidad de flujo</text><text x="85.39" y="391.00" font-size="20.8" fill="#000" stroke="#ffffff" stroke-width="0.15" textLength="98.79" lengthAdjust="spacingAndGlyphs">Bradiquinina</text><text x="87.10" y="411.20" font-size="20.8" fill="#000" stroke="#ffffff" stroke-width="0.15" textLength="72.97" lengthAdjust="spacingAndGlyphs">Trombina</text><text x="86.26" y="431.00" font-size="20.8" fill="#000" stroke="#ffffff" stroke-width="0.15" textLength="84.30" lengthAdjust="spacingAndGlyphs">Serotonina</text><text x="85.39" y="450.70" font-size="20.8" fill="#000" stroke="#ffffff" stroke-width="0.15" textLength="170.73" lengthAdjust="spacingAndGlyphs">Factor de crecimiento</text><text x="95.96" y="470.40" font-size="20.8" fill="#000" stroke="#ffffff" stroke-width="0.15" textLength="172.61" lengthAdjust="spacingAndGlyphs">derivado de plaquetas</text><text x="85.38" y="490.80" font-size="20.8" fill="#000" stroke="#ffffff" stroke-width="0.15" textLength="108.29" lengthAdjust="spacingAndGlyphs">Interleucina-1</text><text x="85.37" y="511.00" font-size="20.8" fill="#000" stroke="#ffffff" stroke-width="0.15" textLength="184.57" lengthAdjust="spacingAndGlyphs">Nucleótidos circulantes</text><text x="219.90" y="621.20" font-size="25.8" fill="#fff" stroke="#000" stroke-width="0.15" textLength="116.80" lengthAdjust="spacingAndGlyphs">Prostaciclina</text><text x="212.20" y="702.40" font-size="21.8" fill="#000" stroke="#b1b1b1" stroke-width="0.15" textLength="132.09" lengthAdjust="spacingAndGlyphs">Ciclooxigenasa 2</text><text x="111.50" y="721.20" font-size="22" fill="#000" stroke="#c2c2c2" stroke-width="0.15" textLength="151.22" lengthAdjust="spacingAndGlyphs">Ácido araquidónico</text><text x="694.60" y="168.30" font-size="25.8" fill="#fff" stroke="#000" stroke-width="0.15" textLength="119.11" lengthAdjust="spacingAndGlyphs">Activador del</text><text x="688.78" y="190.90" font-size="25.8" fill="#fff" stroke="#000" stroke-width="0.15" textLength="130.04" lengthAdjust="spacingAndGlyphs">plasminógeno</text><text x="583.50" y="260.80" font-size="25.8" fill="#000" stroke="#ffffff" stroke-width="0.15" textLength="85.09" lengthAdjust="spacingAndGlyphs">Plasmina</text><text x="716.24" y="299.40" font-size="25.8" fill="#000" stroke="#ffffff" stroke-width="0.15" textLength="61.65" lengthAdjust="spacingAndGlyphs">Fibrina</text><text x="790.22" y="243.90" font-size="25.8" fill="#000" stroke="#ffffff" stroke-width="0.15" textLength="124.45" lengthAdjust="spacingAndGlyphs">Estabilización</text><text x="802.98" y="267.10" font-size="25.8" fill="#000" stroke="#ffffff" stroke-width="0.15" textLength="99.75" lengthAdjust="spacingAndGlyphs">del trombo</text><text x="646.00" y="367.10" font-size="25.8" fill="#000" stroke="#ffffff" stroke-width="0.15" textLength="86.99" lengthAdjust="spacingAndGlyphs">GPIIb/IIIa</text><text x="677.13" y="465.40" font-size="25.8" fill="#000" stroke="#ffffff" stroke-width="0.15" textLength="58.01" lengthAdjust="spacingAndGlyphs">PAR-1</text><text x="677.13" y="489.00" font-size="25.8" fill="#000" stroke="#ffffff" stroke-width="0.15" textLength="58.01" lengthAdjust="spacingAndGlyphs">PAR-4</text><text x="968.81" y="187.60" font-size="25.8" fill="#fff" stroke="#000" stroke-width="0.15" textLength="138.04" lengthAdjust="spacingAndGlyphs">Glucoproteínas</text><text x="995.91" y="378.00" font-size="25.8" fill="#000" stroke="#ececec" stroke-width="0.15" textLength="137.84" lengthAdjust="spacingAndGlyphs">Glucoproteínas</text><text x="1054.83" y="455.50" font-size="25.8" fill="#000" stroke="#ffffff" stroke-width="0.15" textLength="101.53" lengthAdjust="spacingAndGlyphs">Plaquetas</text><text x="865.90" y="374.00" font-size="25.8" fill="#000" stroke="#ffffff" stroke-width="0.15" textLength="109.10" lengthAdjust="spacingAndGlyphs">Fibrinógeno</text><text x="454.00" y="582.60" font-size="25.8" fill="#000" stroke="#ffffff" stroke-width="0.15" textLength="144.08" lengthAdjust="spacingAndGlyphs">Antitrombina III</text><text x="677.70" y="561.80" font-size="25.8" fill="#000" stroke="#ffffff" stroke-width="0.15" textLength="85.60" lengthAdjust="spacingAndGlyphs">Trombina</text><text x="696.60" y="636.00" font-size="25.8" fill="#000" stroke="#ffffff" stroke-width="0.15" textLength="25.35" lengthAdjust="spacingAndGlyphs">Xa</text><text x="801.23" y="652.40" font-size="25.8" fill="#000" stroke="#ffffff" stroke-width="0.15" textLength="13.32" lengthAdjust="spacingAndGlyphs">X</text><text x="846.20" y="493.70" font-size="25.8" fill="#000" stroke="#ffffff" stroke-width="0.15" textLength="52.23" lengthAdjust="spacingAndGlyphs">V-VIII</text><text x="762.10" y="592.70" font-size="25.8" fill="#000" stroke="#ffffff" stroke-width="0.15" textLength="71.53" lengthAdjust="spacingAndGlyphs">Va-VIIIa</text><text x="855.94" y="594.40" font-size="25.8" fill="#000" stroke="#ffffff" stroke-width="0.15" textLength="95.27" lengthAdjust="spacingAndGlyphs">Proteína S</text><text x="1035.16" y="607.00" font-size="25.8" fill="#000" stroke="#ffffff" stroke-width="0.15" textLength="95.07" lengthAdjust="spacingAndGlyphs">Proteína C</text><text x="416.34" y="707.00" font-size="26.5" fill="#fff" stroke="#000" stroke-width="0.15" textLength="140.13" lengthAdjust="spacingAndGlyphs">Heparansulfato</text><text x="683.84" y="694.70" font-size="26.5" fill="#000" stroke="#aaaaaa" stroke-width="0.15" textLength="86.24" lengthAdjust="spacingAndGlyphs">Endotelio</text><text x="926.70" y="709.80" font-size="26.5" fill="#fff" stroke="#000" stroke-width="0.15" textLength="155.09" lengthAdjust="spacingAndGlyphs">Trombomodulina</text></g></svg></body></html>
